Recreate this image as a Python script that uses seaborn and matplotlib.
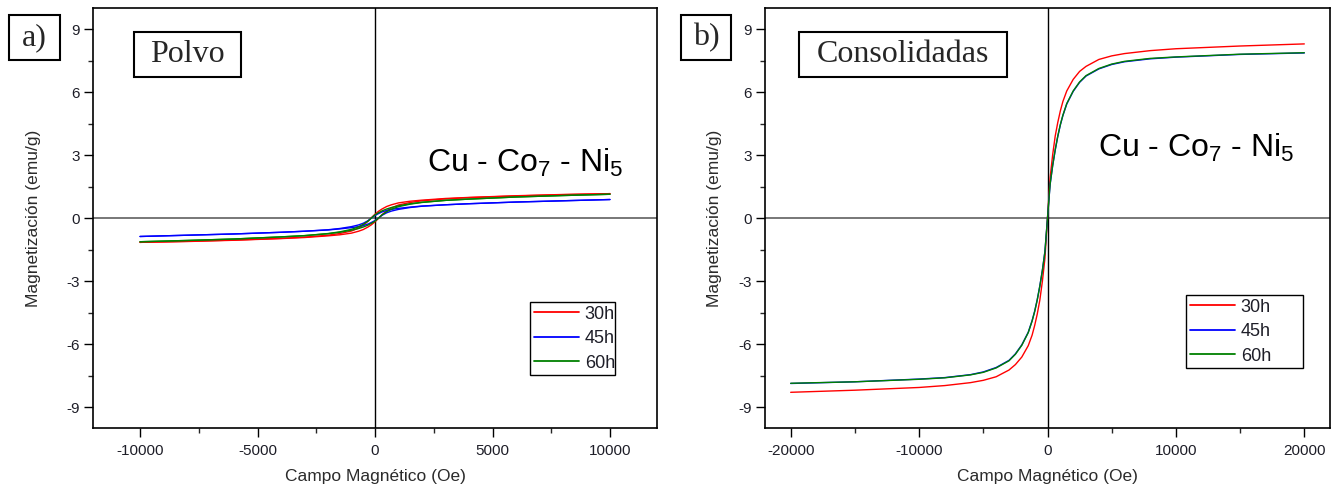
import numpy as np
import pandas as pd
import matplotlib
matplotlib.use("Agg")
import matplotlib.pyplot as plt
import seaborn as sns
from matplotlib.patches import Rectangle
from matplotlib.lines import Line2D
from matplotlib.ticker import MultipleLocator

# ---------------- data ----------------
series = ["30h", "45h", "60h"]
colors = ["#ff0000", "#0000ff", "#008000"]

# Panel a) Polvo : field grid (Oe) and both branches of the loop (emu/g)
H_A = [-10000, -8000, -6000, -4000, -3000, -2000, -1500, -1000, -700, -500, -300, -150,
       0, 150, 300, 500, 700, 1000, 1500, 2000, 3000, 4000, 6000, 8000, 10000]
up30_A = [-1.16, -1.11, -1.05, -0.97, -0.91, -0.82, -0.74, -0.62, -0.48, -0.34, -0.16, 0.02,
          0.18, 0.32, 0.43, 0.55, 0.63, 0.72, 0.80, 0.85, 0.93, 0.98, 1.06, 1.12, 1.16]
lo30_A = [-1.16, -1.12, -1.06, -0.98, -0.93, -0.85, -0.80, -0.72, -0.63, -0.55, -0.43, -0.32,
          -0.18, -0.02, 0.16, 0.34, 0.48, 0.62, 0.74, 0.82, 0.91, 0.97, 1.05, 1.11, 1.16]
up45_A = [-0.88, -0.82, -0.76, -0.68, -0.63, -0.56, -0.50, -0.41, -0.33, -0.25, -0.13, 0.0,
          0.12, 0.21, 0.29, 0.36, 0.41, 0.46, 0.52, 0.57, 0.63, 0.68, 0.76, 0.82, 0.88]
lo45_A = [-0.88, -0.82, -0.76, -0.68, -0.63, -0.57, -0.52, -0.46, -0.41, -0.36, -0.29, -0.21,
          -0.12, 0.0, 0.13, 0.25, 0.33, 0.41, 0.50, 0.56, 0.63, 0.68, 0.76, 0.82, 0.88]
up60_A = [-1.13, -1.07, -1.00, -0.90, -0.84, -0.74, -0.66, -0.54, -0.42, -0.30, -0.15, 0.0,
          0.15, 0.25, 0.34, 0.43, 0.50, 0.58, 0.68, 0.75, 0.84, 0.90, 1.00, 1.07, 1.13]
lo60_A = [-1.13, -1.07, -1.00, -0.90, -0.84, -0.75, -0.68, -0.58, -0.50, -0.43, -0.34, -0.25,
          -0.15, 0.0, 0.15, 0.30, 0.42, 0.54, 0.66, 0.74, 0.84, 0.90, 1.00, 1.07, 1.13]

# Panel b) Consolidadas
H_B = [-20000, -15000, -10000, -8000, -6000, -5000, -4000, -3000, -2500, -2000, -1500,
       -1200, -1000, -800, -600, -400, -200, 0, 200, 400, 600, 800, 1000, 1200, 1500,
       2000, 2500, 3000, 4000, 5000, 6000, 8000, 10000, 15000, 20000]
M30_B = [-8.30, -8.20, -8.07, -7.98, -7.84, -7.73, -7.56, -7.24, -6.98, -6.62, -6.08,
         -5.58, -5.12, -4.58, -3.92, -3.02, -1.92, 0.0, 1.90, 3.00, 3.90, 4.55, 5.10, 5.55,
         6.05, 6.60, 6.98, 7.22, 7.55, 7.72, 7.83, 7.97, 8.06, 8.19, 8.29]
M45_B = [-7.88, -7.80, -7.67, -7.60, -7.46, -7.33, -7.12, -6.78, -6.47, -6.04, -5.44,
         -4.89, -4.44, -3.89, -3.24, -2.49, -1.59, 0.0, 1.58, 2.48, 3.23, 3.88, 4.43, 4.88,
         5.43, 6.03, 6.46, 6.76, 7.10, 7.31, 7.44, 7.58, 7.66, 7.79, 7.86]
M60_B = [-7.87, -7.80, -7.68, -7.61, -7.47, -7.35, -7.14, -6.80, -6.49, -6.06, -5.46,
         -4.91, -4.46, -3.91, -3.26, -2.51, -1.61, 0.0, 1.60, 2.50, 3.25, 3.90, 4.45, 4.90,
         5.45, 6.05, 6.48, 6.78, 7.12, 7.33, 7.46, 7.60, 7.67, 7.80, 7.87]

xlabel = "Campo Magnético (Oe)"
ylabel = "Magnetización (emu/g)"

# ---------------- frames ----------------
rows = []
for s, up, lo in zip(series, [up30_A, up45_A, up60_A], [lo30_A, lo45_A, lo60_A]):
    for h, m in zip(H_A, up):
        rows.append((s, "sup", h, m))
    for h, m in zip(H_A, lo):
        rows.append((s, "inf", h, m))
dfA = pd.DataFrame(rows, columns=["serie", "rama", "H", "M"])

rows = []
for s, mm in zip(series, [M30_B, M45_B, M60_B]):
    for h, m in zip(H_B, mm):
        rows.append((s, "unica", h, m))
dfB = pd.DataFrame(rows, columns=["serie", "rama", "H", "M"])

# ---------------- style ----------------
sns.set_style("ticks")
plt.rcParams["font.family"] = ["Liberation Sans", "DejaVu Sans"]
plt.rcParams["axes.unicode_minus"] = False
plt.rcParams["mathtext.fontset"] = "custom"
plt.rcParams["mathtext.rm"] = "Liberation Sans"
plt.rcParams["mathtext.it"] = "Liberation Sans:italic"
plt.rcParams["mathtext.bf"] = "Liberation Sans:bold"
plt.rcParams["mathtext.default"] = "regular"

W, Hpx = 1335, 490
fig = plt.figure(figsize=(W / 100, Hpx / 100), dpi=100)
fig.patch.set_facecolor("white")

axA = fig.add_axes([93 / W, 62 / Hpx, 564 / W, 420 / Hpx])
axB = fig.add_axes([765 / W, 62 / Hpx, 565 / W, 420 / Hpx])

palette = dict(zip(series, colors))

sns.lineplot(data=dfA, x="H", y="M", hue="serie", units="rama", estimator=None,
             sort=False, palette=palette, hue_order=series, lw=1.0, legend=False, ax=axA)
sns.lineplot(data=dfB, x="H", y="M", hue="serie", units="rama", estimator=None,
             sort=False, palette=palette, hue_order=series, lw=1.0, legend=False, ax=axB)

for ax, xl, xmaj, xmin, ylab_x in [(axA, 12000, 5000, 2500, -0.093),
                                   (axB, 22000, 10000, 5000, -0.076)]:
    ax.set_xlim(-xl, xl)
    ax.set_ylim(-10, 10)
    ax.axhline(0, color="#606060", lw=1.2, zorder=0.5)
    ax.axvline(0, color="black", lw=1.0, zorder=0.5)
    ax.xaxis.set_major_locator(MultipleLocator(xmaj))
    ax.xaxis.set_minor_locator(MultipleLocator(xmin))
    ax.yaxis.set_major_locator(MultipleLocator(3))
    ax.yaxis.set_minor_locator(MultipleLocator(1.5))
    ax.tick_params(which="major", direction="out", length=6.5, width=1.0,
                   labelsize=11, colors="black", labelcolor="#1e1e28", pad=3)
    ax.tick_params(axis="x", which="major", pad=5)
    ax.tick_params(which="minor", direction="out", length=3.5, width=1.0)
    ax.tick_params(top=False, right=False, which="both")
    for sp in ax.spines.values():
        sp.set_visible(True)
        sp.set_color("black")
        sp.set_linewidth(1.2)
    ax.set_xlabel(xlabel, fontsize=12.5, color="#2b2b2b")
    ax.set_ylabel(ylabel, fontsize=12.5, color="#2b2b2b")
    ax.yaxis.set_label_coords(ylab_x, 0.5)
    ax.xaxis.set_label_coords(0.5, -0.098)

# legends
handles = [Line2D([], [], color=c, lw=1.3) for c in colors]
for ax, (x0, top, wd) in [(axA, (530, 302, 85)), (axB, (1186, 295, 117))]:
    leg = ax.legend(handles, series, loc="upper left",
                    bbox_to_anchor=(x0 / W, 1 - top / Hpx, wd / W, 0),
                    bbox_transform=fig.transFigure, mode="expand",
                    fontsize=13, frameon=True, fancybox=False, framealpha=1,
                    edgecolor="black", borderpad=0.2, handlelength=2.5,
                    handletextpad=0.33, labelspacing=0.42, borderaxespad=0)
    leg.get_frame().set_linewidth(1.0)
    for t in leg.get_texts():
        t.set_color("#1e1e28")

# boxed labels
def boxed(x0, y0, x1, y1, text, size):
    fig.patches.append(Rectangle((x0 / W, 1 - y1 / Hpx), (x1 - x0) / W, (y1 - y0) / Hpx,
                                 transform=fig.transFigure, facecolor="white",
                                 edgecolor="black", lw=1.5, zorder=5))
    fig.text((x0 + x1) / 2 / W, 1 - (y0 + y1) / 2 / Hpx, text, ha="center", va="center",
             family="Liberation Serif", fontsize=size, zorder=6)

boxed(9, 15, 60, 60, "a)", 23)
boxed(134, 32, 241, 77, "Polvo", 23)
boxed(681, 15, 731, 60, "b)", 23)
boxed(799, 32, 1007, 77, "Consolidadas", 23)

alloy = "Cu - Co$_7$ - Ni$_5$"
fig.text(427 / W, 1 - 172 / Hpx, alloy, ha="left", va="baseline", fontsize=23, color="black")
fig.text(1098 / W, 1 - 157 / Hpx, alloy, ha="left", va="baseline", fontsize=23, color="black")

fig.savefig("out.png", dpi=100)
